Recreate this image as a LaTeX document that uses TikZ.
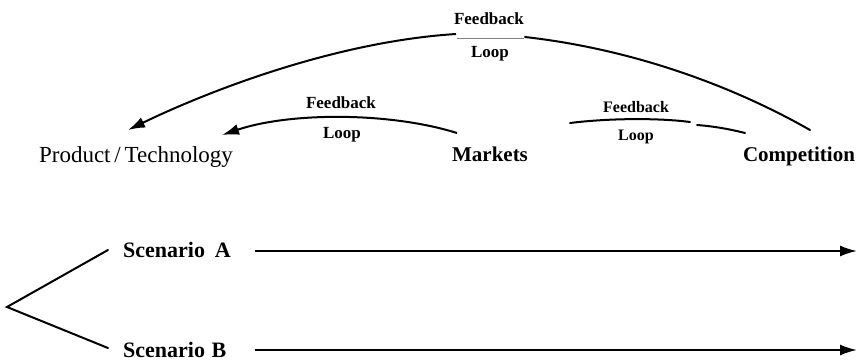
\documentclass[tikz,border=0pt]{standalone}
\usepackage{fontspec}
\setmainfont{Liberation Serif}
\usetikzlibrary{arrows.meta}
\begin{document}
\begin{tikzpicture}[x=1pt,y=-1pt,
  conn/.style={line width=2pt,line cap=round},
  arr/.style={line width=2pt,-{Latex[length=17pt,width=11pt]}},
  mainlbl/.style={font=\fontsize{21}{24}\selectfont\bfseries,anchor=base,inner sep=0pt},
  reglbl/.style={font=\fontsize{23}{26}\selectfont,anchor=base,inner sep=0pt},
  fblbl/.style={font=\fontsize{17}{20}\selectfont\bfseries,anchor=base,inner sep=0pt},
  sclbl/.style={font=\fontsize{22}{24}\selectfont\bfseries,anchor=base west,inner sep=0pt},
  bar/.style={line width=0.8pt,draw=gray}]
\useasboundingbox (0,0) rectangle (859,361);

% main labels
\node[reglbl]  (prod) at (136,162) {Product\,/\,Technology};
\node[mainlbl] (mkt)  at (490,161) {Markets};
\node[mainlbl] (comp) at (799,161) {Competition};

% feedback labels
\node[fblbl] (fb1) at (489,25) {Feedback};
\node[fblbl] (lp1) at (490,57) {Loop};
\node[fblbl] (fb2) at (341,108) {Feedback};
\node[fblbl] (lp2) at (342,138) {Loop};
\node[fblbl,font=\fontsize{16}{20}\selectfont\bfseries] (fb3) at (636,112) {Feedback};
\node[fblbl,font=\fontsize{16}{20}\selectfont\bfseries] (lp3) at (636,140) {Loop};

% scenario labels
\node[sclbl] (scA) at (123,257) {Scenario\hspace{0.45em}A};
\node[sclbl] (scB) at (123,357) {Scenario\hspace{0.3em}B};

% coordinates of connector ends
\coordinate (compTop) at (810,130);
\coordinate (prodTip) at (128,130);
\coordinate (topL) at (456,34);
\coordinate (topR) at (525,37);
\coordinate (barL) at (457,38);
\coordinate (barR) at (524,38);
\coordinate (mktTop) at (457,133);
\coordinate (prodTip2) at (222,135);
\coordinate (compTop2) at (745,133);
\coordinate (gapR) at (697,125);
\coordinate (gapL) at (690,122);
\coordinate (mktEnd) at (570,123);
\coordinate (brA) at (108,250);
\coordinate (brV) at (7,307);
\coordinate (brB) at (108,348);
\coordinate (aStart) at (255,251);
\coordinate (aEnd) at (857,251);
\coordinate (bStart) at (255,350);
\coordinate (bEnd) at (857,350);

% top feedback loop: Competition -> Product/Technology
\draw[conn] (compTop) .. controls (740,90) and (640,50) .. (topR);
\draw[bar] (barL) -- (barR);
\draw[arr] (topL) .. controls (330,42) and (200,95) .. (prodTip);

% middle feedback loop: Markets -> Product/Technology
\draw[arr] (mktTop) .. controls (390,112) and (290,112) .. (prodTip2);

% right feedback loop: Competition -> Markets
\draw[conn] (compTop2) .. controls (725,128) and (710,126) .. (gapR);
\draw[conn] (gapL) .. controls (660,118) and (610,118) .. (mktEnd);

% scenarios
\draw[conn,line join=miter] (brA) -- (brV) -- (brB);
\draw[arr] (aStart) -- (aEnd);
\draw[arr] (bStart) -- (bEnd);
\end{tikzpicture}
\end{document}
